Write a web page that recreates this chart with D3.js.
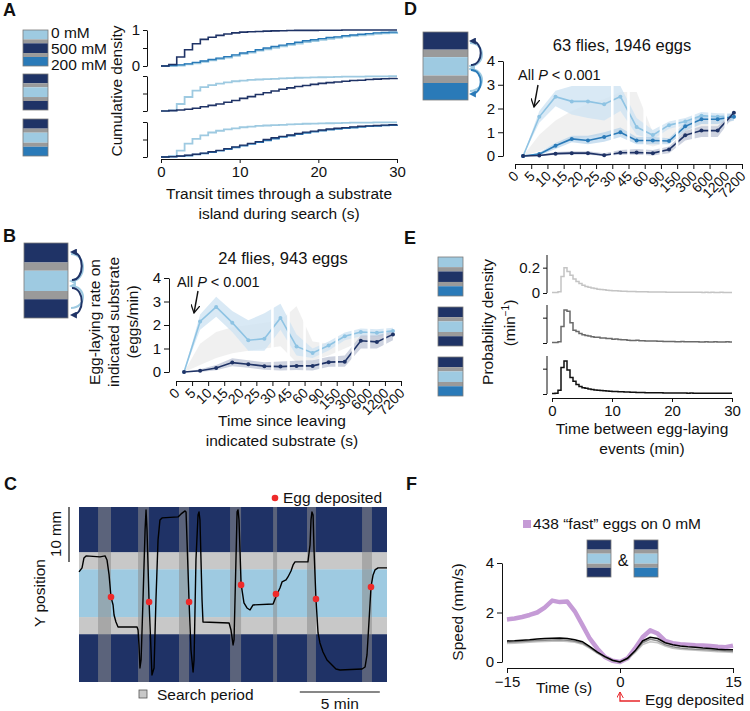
<!DOCTYPE html>
<html><head><meta charset="utf-8">
<script src="https://cdn.jsdelivr.net/npm/d3@7"></script>
<style>body{margin:0;background:#fff} svg text{font-family:"Liberation Sans",Arial,Helvetica,sans-serif;fill:#111}</style>
</head><body><svg id="c" width="750" height="711"></svg>
<script>
// ---------------- DATA ----------------
// Panel A: cumulative density of transit times (1-s bins, 0..30 s)
const transitTime = d3.range(0, 31);
const A1_light = [0,0.01,0.02,0.05,0.08,0.12,0.16,0.2,0.24,0.29,0.34,0.38,0.43,0.47,0.51,0.55,0.59,0.63,0.67,0.7,0.73,0.76,0.79,0.82,0.84,0.86,0.88,0.9,0.91,0.92,0.93];
const A1_blue  = [0,0.01,0.03,0.06,0.1,0.14,0.18,0.22,0.26,0.31,0.36,0.4,0.45,0.5,0.54,0.58,0.62,0.66,0.7,0.73,0.76,0.79,0.81,0.84,0.86,0.88,0.9,0.92,0.93,0.94,0.95];
const A1_navy  = [0,0.04,0.25,0.45,0.62,0.74,0.8,0.85,0.89,0.92,0.94,0.95,0.96,0.97,0.975,0.98,0.985,0.99,0.99,0.99,0.995,0.995,0.995,1,1,1,1,1,1,1,1];
const A2_light = [0,0.02,0.2,0.4,0.58,0.68,0.74,0.78,0.82,0.85,0.87,0.89,0.9,0.91,0.92,0.93,0.94,0.95,0.955,0.96,0.965,0.97,0.975,0.98,0.98,0.985,0.99,0.99,0.99,0.995,0.995];
const A2_navy  = [0,0.01,0.03,0.05,0.08,0.12,0.16,0.2,0.25,0.3,0.36,0.41,0.47,0.52,0.57,0.62,0.66,0.7,0.73,0.76,0.79,0.81,0.83,0.85,0.87,0.88,0.9,0.91,0.92,0.93,0.94];
const A3_light = [0,0.02,0.18,0.38,0.52,0.62,0.7,0.75,0.79,0.82,0.85,0.87,0.89,0.9,0.91,0.92,0.93,0.94,0.95,0.955,0.96,0.965,0.97,0.975,0.98,0.98,0.985,0.99,0.99,0.99,0.99];
const A3_blue  = [0,0.01,0.02,0.04,0.07,0.1,0.14,0.18,0.22,0.27,0.32,0.37,0.42,0.47,0.52,0.57,0.61,0.65,0.69,0.72,0.75,0.78,0.8,0.82,0.84,0.86,0.88,0.89,0.9,0.91,0.92];
const A3_navy  = [0,0.01,0.03,0.05,0.08,0.11,0.15,0.19,0.24,0.29,0.34,0.39,0.44,0.5,0.55,0.59,0.63,0.67,0.71,0.74,0.77,0.8,0.82,0.84,0.86,0.88,0.89,0.9,0.91,0.92,0.93];
const A_xTicks = [0,10,20,30];
const A_legend = ["0 mM","500 mM","200 mM"];

// Panels B & D: egg-laying rate per time bin since leaving substrate
const binLabels = ["0","5","10","15","20","25","30","45","60","90","150","300","600","1200","7200"];
const B_light    = [0,2.15,2.77,2.1,1.35,1.42,2.3,1.09,0.81,1.13,1.52,1.7,1.67,1.75];
const B_lightHi  = [0,2.45,3.2,2.6,2.2,2.5,2.9,1.6,1.0,1.3,1.68,1.85,1.82,1.88];
const B_lightLo  = [0,1.8,2.35,1.7,0.9,0.9,1.8,0.7,0.6,0.92,1.35,1.52,1.5,1.62];
const B_navy     = [0,0.05,0.17,0.4,0.33,0.25,0.23,0.26,0.26,0.42,0.44,1.33,1.28,1.6];
const B_navyHi   = [0,0.12,0.3,0.58,0.5,0.42,0.45,0.48,0.5,0.65,0.7,1.55,1.55,1.75];
const B_navyLo   = [0,0,0.07,0.25,0.18,0.1,0.06,0.08,0.06,0.22,0.22,1.0,1.0,1.35];
const B_nullHi   = [0,1.2,1.7,1.9,2.0,2.1,2.2,2.8,1.3,1.2,1.5,1.7,1.7,1.75];
const B_nullLo   = [0,0.3,0.6,0.8,0.9,1.0,1.1,0.4,0.5,0.7,1.0,1.3,1.3,1.5];

const D_light    = [0,1.65,2.5,2.3,2.3,2.18,2.5,1.22,0.88,1.3,1.45,1.7,1.65,1.65];
const D_lightHi  = [0,1.9,2.75,2.95,2.95,2.95,2.95,1.6,1.1,1.45,1.6,1.85,1.8,1.8];
const D_lightLo  = [0,1.4,2.1,1.75,1.6,1.5,1.9,0.9,0.7,1.15,1.3,1.55,1.5,1.5];
const D_blue     = [0,0.08,0.43,0.72,0.65,0.8,1.0,0.65,0.65,0.63,1.25,1.55,1.55,1.65];
const D_blueHi   = [0,0.15,0.55,0.85,0.85,1.0,1.2,0.8,0.8,0.75,1.4,1.7,1.7,1.8];
const D_blueLo   = [0,0.02,0.3,0.58,0.5,0.6,0.8,0.5,0.5,0.5,1.05,1.35,1.35,1.5];
const D_navy     = [0,0.02,0.1,0.12,0.12,0.03,0.14,0.15,0.12,0.27,0.87,1.07,1.07,1.82];
const D_navyHi   = [0,0.05,0.17,0.2,0.2,0.12,0.25,0.3,0.25,0.4,1.05,1.25,1.25,1.9];
const D_navyLo   = [0,0,0.04,0.05,0.05,0,0.05,0.05,0.02,0.12,0.65,0.8,0.8,1.7];
const D_nullHi   = [0,0.9,1.5,1.9,2.2,2.4,2.7,2.7,1.0,1.2,1.4,1.6,1.6,1.7];
const D_nullLo   = [0,0.2,0.5,0.7,0.8,0.9,0.9,0.6,0.4,0.6,0.9,1.2,1.2,1.5];

// Panel C: example trajectory (time in min, Y position in mm)
const traceT = [0,0.19,0.31,0.44,1.31,1.63,1.75,1.88,2.0,2.13,2.19,2.31,2.44,3.63,3.69,3.75,3.81,3.88,4.0,4.13,4.19,4.25,4.38,4.5,4.56,4.69,4.81,4.94,5.06,5.19,6.19,6.38,6.63,6.69,6.75,6.88,7.0,7.13,7.19,7.31,7.44,7.5,7.56,7.69,7.75,9.38,9.5,9.63,9.69,9.81,9.88,9.94,10.0,10.13,10.31,10.5,10.69,10.88,12.13,12.38,12.56,12.69,12.94,13.06,13.25,13.38,13.5,14.31,14.44,14.5,14.56,14.63,14.69,14.81,14.94,15.06,15.25,15.5,15.75,16.06,16.31,17.69,17.88,18.0,18.13,18.25,18.38,18.5,18.69,19.25];
const traceY = [20.0,20.73,22.55,22.91,22.73,22.91,22.18,19.45,15.45,14.0,12.18,10.91,10.0,10.0,9.45,6.73,2.55,4.0,14.91,27.64,31.27,27.64,14.55,5.82,1.27,2.55,14.91,25.82,29.45,29.82,30.0,30.55,31.09,30.91,25.82,14.55,5.82,1.82,4.0,22.18,30.36,30.91,29.45,14.91,10.91,10.73,9.45,6.73,7.64,22.18,30.91,31.27,29.45,17.82,14.36,13.45,13.09,14.0,14.18,16.0,17.09,18.18,18.55,19.09,20.18,21.27,21.82,21.82,24.91,29.45,30.91,30.36,24.0,15.09,8.91,7.09,5.45,4.0,3.27,2.36,2.18,2.36,2.73,4.91,11.27,17.27,19.45,20.36,20.73,20.73];
const eggT = [2.0,4.38,6.88,10.13,12.31,14.81,18.25];
const eggY = [15.45,14.55,14.55,17.64,16.0,15.09,17.27];
const searchStart = [1.19,3.69,6.25,9.44,12.13,14.25,17.69];
const searchEnd   = [2.0,4.38,6.88,10.13,12.38,14.81,18.31];
const arenaZones = [[0,8.7,"navy"],[8.7,11.8,"gray"],[11.8,20.5,"light"],[20.5,23.6,"gray"],[23.6,31.8,"navy"]];

// Panel E: inter-egg interval histograms (0.5-min bins)
const E_binStart = d3.range(0, 30, 0.5);
const E_top = [0.004,0.004,0.01,0.13,0.2,0.17,0.14,0.11,0.09,0.075,0.062,0.052,0.045,0.04,0.035,0.03,0.028,0.025,0.022,0.02,0.018,0.017,0.015,0.014,0.013,0.012,0.012,0.011,0.01,0.01,0.009,0.009,0.008,0.008,0.008,0.007,0.007,0.007,0.006,0.006,0.006,0.006,0.005,0.006,0.005,0.005,0.005,0.006,0.005,0.005,0.004,0.005,0.004,0.005,0.004,0.004,0.005,0.004,0.004,0.004];
const E_mid = [0.004,0.004,0.01,0.13,0.26,0.25,0.16,0.1,0.09,0.075,0.065,0.06,0.055,0.05,0.045,0.045,0.04,0.04,0.035,0.035,0.03,0.032,0.028,0.025,0.025,0.022,0.02,0.02,0.022,0.018,0.018,0.016,0.016,0.015,0.015,0.013,0.014,0.012,0.012,0.012,0.011,0.01,0.01,0.011,0.01,0.009,0.009,0.01,0.009,0.008,0.008,0.009,0.008,0.008,0.01,0.008,0.007,0.008,0.01,0.008];
const E_bot = [0.003,0.005,0.03,0.21,0.26,0.19,0.13,0.1,0.075,0.06,0.05,0.045,0.04,0.036,0.032,0.03,0.028,0.026,0.024,0.022,0.02,0.019,0.018,0.017,0.016,0.015,0.014,0.013,0.012,0.012,0.011,0.01,0.01,0.01,0.009,0.009,0.009,0.008,0.008,0.008,0.008,0.007,0.007,0.007,0.007,0.006,0.007,0.006,0.006,0.006,0.006,0.006,0.005,0.006,0.005,0.006,0.005,0.005,0.005,0.005];

// Panel F: speed around egg deposition (1-s samples, -15..15 s)
const F_time = d3.range(-15, 16);
const F_fast  = [1.72,1.76,1.82,1.9,2.0,2.2,2.48,2.42,2.44,2.05,1.5,0.94,0.54,0.2,0.05,0,0.15,0.55,1.0,1.28,1.15,0.85,0.76,0.72,0.7,0.68,0.67,0.65,0.62,0.6,0.66];
const F_black = [0.85,0.86,0.88,0.9,0.93,0.95,0.96,0.97,0.95,0.9,0.82,0.62,0.4,0.22,0.07,0,0.15,0.45,0.85,1.0,0.95,0.78,0.7,0.65,0.62,0.6,0.57,0.55,0.52,0.5,0.5];
const F_dgray = [0.8,0.81,0.83,0.85,0.87,0.88,0.89,0.9,0.88,0.84,0.76,0.58,0.37,0.2,0.06,0,0.13,0.42,0.78,0.92,0.86,0.7,0.62,0.57,0.54,0.52,0.5,0.48,0.46,0.44,0.43];
const F_lgray = [0.75,0.76,0.78,0.8,0.82,0.83,0.84,0.85,0.83,0.8,0.72,0.55,0.35,0.18,0.05,0,0.12,0.38,0.7,0.82,0.78,0.64,0.56,0.52,0.49,0.47,0.45,0.43,0.41,0.4,0.38];

// ---------------- STYLE ----------------
const COL = {navy:"#1f3366", light:"#9ecae1", blue:"#2a7ab8", gray:"#9a9a9a", lgray:"#c8c8c8"};
const svg = d3.select("#c");
const defs = svg.append("defs");
function mk(id,color,size,open){
  const m = defs.append("marker").attr("id",id).attr("viewBox","0 0 10 10").attr("refX",open?9:7).attr("refY",5)
    .attr("markerWidth",size).attr("markerHeight",size).attr("orient","auto").attr("markerUnits","userSpaceOnUse");
  if(open) m.append("path").attr("d","M0,0 L9,5 L0,10").attr("fill","none").attr("stroke",color).attr("stroke-width",1.4);
  else m.append("path").attr("d","M0,0 L10,5 L0,10 Z").attr("fill",color);
}
mk("mNavy",COL.navy,7); mk("mLight",COL.light,7); mk("mBlue",COL.blue,7); mk("mBlack","#111",9,true); mk("mRed","#e8262a",7,true);

function text(x,y,s,o={}){
  const t = svg.append("text").attr("x",x).attr("y",y).text(s)
    .style("font-size",(o.size||15)+"px").attr("text-anchor",o.anchor||"start");
  if(o.bold) t.style("font-weight","bold");
  if(o.rot) t.attr("transform",`rotate(${o.rot},${x},${y})`);
  return t;
}
function icon(x,y,w,h,cols){
  const fr=[0.26,0.11,0.27,0.11,0.25]; let yy=y;
  const g=svg.append("g");
  fr.forEach((f,i)=>{ g.append("rect").attr("x",x).attr("y",yy).attr("width",w).attr("height",h*f).attr("fill",cols[i]); yy+=h*f; });
  g.append("rect").attr("x",x).attr("y",y).attr("width",w).attr("height",h).attr("fill","none").attr("stroke","#7a7a7a").attr("stroke-width",0.8);
}
function styleAxis(g,size){
  g.selectAll("path,line").attr("stroke","#111").attr("stroke-width",1);
  g.selectAll("text").style("font-size",(size||14)+"px").style("font-family","'Liberation Sans',Arial,sans-serif").attr("fill","#111");
}
const N=COL.navy,L=COL.light,B=COL.blue,G=COL.gray;

// Panel labels
[["A",3,16],["B",3,242],["C",4,490],["D",404,15],["E",404,244],["F",406,490]].forEach(d=>text(d[1],d[2],d[0],{size:18,bold:true}));

// ---------------- PANEL A ----------------
icon(23,30,25,36,[L,G,N,G,B]);
icon(23,74,25,36,[N,G,L,G,N]);
icon(23,119,25,37,[N,G,L,G,B]);
A_legend.forEach((s,i)=>text(51,38+i*16,s,{size:15.5}));
const xA = d3.scaleLinear().domain([0,30]).range([161,397]);
const subA = [[66,30],[111,76],[157,122]];
const seriesA = [
  [[A1_light,L,2.2],[A1_blue,B,1.4],[A1_navy,N,1.6]],
  [[A2_light,L,1.8],[A2_navy,N,1.6]],
  [[A3_light,L,1.8],[A3_blue,B,1.6],[A3_navy,N,1.4]]
];
subA.forEach((r,k)=>{
  const y = d3.scaleLinear().domain([0,1]).range(r);
  const ax = svg.append("g").attr("transform","translate(147,0)")
    .call(d3.axisLeft(y).tickValues([0,0.5,1]).tickSize(4).tickSizeOuter(0).tickFormat(d=> k===0 && d!==0.5 ? d3.format("d")(d) : ""));
  styleAxis(ax,15);
  ax.selectAll("text").attr("x",-7);
  const line = d3.line().x((d,i)=>xA(transitTime[i])).y(d=>y(d)).curve(d3.curveStepAfter);
  seriesA[k].forEach(s=>svg.append("path").attr("d",line(s[0])).attr("fill","none").attr("stroke",s[1]).attr("stroke-width",s[2]));
});
const axA = svg.append("g").attr("transform","translate(0,159)").call(d3.axisBottom(xA).tickValues(A_xTicks).tickSize(4).tickSizeOuter(0));
styleAxis(axA,15);
text(122,91,"Cumulative density",{anchor:"middle",rot:-90,size:15.5});
text(279,199,"Transit times through a substrate",{anchor:"middle",size:15.5});
text(279,219,"island during search (s)",{anchor:"middle",size:15.5});

// ---------------- PANELS B & D ----------------
function ratePanel(o){
  const xb = d3.scaleLinear().domain([0,binLabels.length-1]).range([o.x0,o.x1]);
  const y = d3.scaleLinear().domain([0,4]).range([o.yb,o.yt]);
  const idx = d3.range(binLabels.length-1);
  const cx = i => xb(i+0.5);
  const area = (lo,hi)=> d3.area().x(i=>cx(i)).y0(i=>y(lo[i])).y1(i=>y(hi[i]))(idx);
  svg.append("path").attr("d",area(o.nullLo,o.nullHi)).attr("fill","#e2e2e2").attr("opacity",0.5);
  o.series.forEach(s=> svg.append("path").attr("d",area(s.lo,s.hi)).attr("fill",s.band).attr("opacity",s.op));
  o.series.forEach(s=> svg.append("path").attr("d",d3.line().x(i=>cx(i)).y(i=>y(s.m[i]))(idx)).attr("fill","none").attr("stroke",s.c).attr("stroke-width",1.6));
  d3.range(6,14).forEach(i=> svg.append("rect").attr("x",xb(i)-1.3).attr("y",o.yt+6).attr("width",2.6).attr("height",o.yb-o.yt-4).attr("fill","#fff"));
  o.series.forEach(s=> svg.append("g").selectAll("circle").data(idx).join("circle").attr("cx",i=>cx(i)).attr("cy",i=>y(s.m[i])).attr("r",2).attr("fill",s.c));
  const ay = svg.append("g").attr("transform",`translate(${o.yx},0)`).call(d3.axisLeft(y).tickValues([0,1,2,3,4]).tickSize(5).tickSizeOuter(0).tickFormat(d3.format("d")));
  styleAxis(ay,15);
  const ax = svg.append("g").attr("transform",`translate(0,${o.xy})`).call(d3.axisBottom(xb).tickValues(d3.range(binLabels.length)).tickSize(5).tickSizeOuter(0).tickFormat(i=>binLabels[i]));
  styleAxis(ax,14);
  ax.selectAll("text").attr("text-anchor","end").attr("dy",0).attr("y",0).attr("transform","translate(4,13) rotate(-45)");
  text(o.titleX,o.titleY,o.title,{anchor:"middle",size:16.5});
  const p = svg.append("text").attr("x",o.pX).attr("y",o.pY).style("font-size","14.5px");
  p.append("tspan").text("All ");
  p.append("tspan").text("P").style("font-style","italic");
  p.append("tspan").text(" < 0.001");
  svg.append("line").attr("x1",o.arr[0]).attr("y1",o.arr[1]).attr("x2",o.arr[2]).attr("y2",o.arr[3]).attr("stroke","#111").attr("stroke-width",1.4).attr("marker-end","url(#mBlack)");
}
function arc(x,y1,y2,bulge,color,mid){
  svg.append("path").attr("d",`M${x},${y1} C${x+bulge},${y1} ${x+bulge},${y2} ${x},${y2}`)
    .attr("fill","none").attr("stroke",color).attr("stroke-width",2).attr("marker-end",`url(#${mid})`);
}
// B
icon(24,243,44,75,[N,G,L,G,N]);
arc(71,254,281,16,L,"mLight"); arc(72,280,252,13,N,"mNavy");
arc(71,308,286,16,L,"mLight"); arc(72,288,315,13,N,"mNavy");
ratePanel({x0:176,x1:401,yb:372,yt:278,yx:169,xy:381,
  nullLo:B_nullLo,nullHi:B_nullHi,
  series:[{m:B_light,lo:B_lightLo,hi:B_lightHi,c:"#8ec3e3",band:"#cfe4f2",op:0.8},
          {m:B_navy,lo:B_navyLo,hi:B_navyHi,c:N,band:"#aeb5cc",op:0.6}],
  title:"24 flies, 943 eggs",titleX:283,titleY:264,pX:177,pY:287,arr:[198,291,194,313]});
text(100,322,"Egg-laying rate on",{anchor:"middle",rot:-90,size:15.5});
text(119,322,"indicated substrate",{anchor:"middle",rot:-90,size:15.5});
text(138,322,"(eggs/min)",{anchor:"middle",rot:-90,size:15.5});
text(282,426,"Time since leaving",{anchor:"middle",size:15.5});
text(282,446,"indicated substrate (s)",{anchor:"middle",size:15.5});
// D
icon(423,32,45,68,[N,G,L,G,B]);
arc(470,43,66,16,L,"mLight"); arc(471,65,41,13,N,"mNavy");
arc(470,91,69,16,L,"mLight"); arc(471,70,94,13,B,"mBlue");
ratePanel({x0:515,x1:742,yb:156,yt:61,yx:503,xy:164,
  nullLo:D_nullLo,nullHi:D_nullHi,
  series:[{m:D_light,lo:D_lightLo,hi:D_lightHi,c:"#8ec3e3",band:"#cfe4f2",op:0.8},
          {m:D_blue,lo:D_blueLo,hi:D_blueHi,c:B,band:"#a9cbe8",op:0.6},
          {m:D_navy,lo:D_navyLo,hi:D_navyHi,c:N,band:"#aeb5cc",op:0.6}],
  title:"63 flies, 1946 eggs",titleX:622,titleY:51,pX:518,pY:80,arr:[538,85,534,107]});

// ---------------- PANEL C ----------------
const xC = d3.scaleLinear().domain([0,19.25]).range([79,387]);
const yC = d3.scaleLinear().domain([0,31.8]).range([682,507]);
const zoneCol = {navy:"#1f3266",gray:"#c8c8c8",light:"#9ecae1"};
svg.append("g").selectAll("rect").data(arenaZones).join("rect")
  .attr("x",xC(0)).attr("width",xC(19.25)-xC(0)).attr("y",d=>yC(d[1])).attr("height",d=>yC(d[0])-yC(d[1])).attr("fill",d=>zoneCol[d[2]]);
svg.append("g").selectAll("rect").data(searchStart).join("rect")
  .attr("x",d=>xC(d)).attr("width",(d,i)=>xC(searchEnd[i])-xC(d)).attr("y",yC(31.8)).attr("height",yC(0)-yC(31.8))
  .attr("fill","#8c8c8c").attr("opacity",0.55);
svg.append("path").attr("d",d3.line().x((d,i)=>xC(traceT[i])).y(d=>yC(d))(traceY)).attr("fill","none").attr("stroke","#000").attr("stroke-width",1.4).attr("stroke-linejoin","round");
svg.append("g").selectAll("circle").data(eggT).join("circle").attr("cx",d=>xC(d)).attr("cy",(d,i)=>yC(eggY[i])).attr("r",3.3).attr("fill","#ee2a2a");
svg.append("circle").attr("cx",275).attr("cy",498).attr("r",3.3).attr("fill","#ee2a2a");
text(283,503,"Egg deposited",{size:15.5});
svg.append("line").attr("x1",69).attr("x2",69).attr("y1",yC(31.8)).attr("y2",yC(21.8)).attr("stroke","#111").attr("stroke-width",1.2);
text(61,534,"10 mm",{anchor:"middle",rot:-90,size:15});
text(45,593,"Y position",{anchor:"middle",rot:-90,size:15.5});
svg.append("rect").attr("x",139).attr("y",690).attr("width",8).attr("height",8).attr("fill","#c8c8c8").attr("stroke","#555").attr("stroke-width",0.8);
text(157,700,"Search period",{size:15.5});
svg.append("line").attr("x1",xC(13.8)).attr("x2",xC(18.8)).attr("y1",692).attr("y2",692).attr("stroke","#111").attr("stroke-width",1.2);
text(xC(16.3),709,"5 min",{anchor:"middle",size:15.5});

// ---------------- PANEL E ----------------
icon(438,257,25,39,[L,G,N,G,B]);
icon(438,307,25,39,[N,G,L,G,N]);
icon(438,357,25,39,[N,G,L,G,B]);
const xE = d3.scaleLinear().domain([0,30]).range([552,732]);
const subE = [[293,255,E_top,"#c4c4c4"],[343,305,E_mid,"#6a6a6a"],[394,356,E_bot,"#111"]];
subE.forEach((s,k)=>{
  const y = d3.scaleLinear().domain([0,0.3]).range([s[0],s[1]]);
  const ax = svg.append("g").attr("transform","translate(547,0)")
    .call(d3.axisLeft(y).tickValues([0,0.2]).tickSize(4).tickSizeOuter(0).tickFormat(d=> k===0 ? (d===0?"0":"0.2") : ""));
  styleAxis(ax,15);
  ax.select(".domain").attr("d",`M0,${s[0]}V${s[1]}`);
  const pts = E_binStart.map((b,i)=>[b,s[2][i]]).concat([[30,s[2][s[2].length-1]]]);
  svg.append("path").attr("d",d3.line().x(d=>xE(d[0])).y(d=>y(d[1])).curve(d3.curveStepAfter)(pts))
    .attr("fill","none").attr("stroke",s[3]).attr("stroke-width",1.5);
});
const axE = svg.append("g").attr("transform","translate(0,398)").call(d3.axisBottom(xE).tickValues([0,10,20,30]).tickSize(4).tickSizeOuter(0));
styleAxis(axE,15);
text(493,322,"Probability density",{anchor:"middle",rot:-90,size:15.5});
const mt = svg.append("text").attr("x",515).attr("y",323).attr("text-anchor","middle").attr("transform","rotate(-90,515,323)").style("font-size","15.5px");
mt.append("tspan").text("(min");
mt.append("tspan").text("−1").attr("dy",-6).style("font-size","10px");
mt.append("tspan").text(")").attr("dy",6);
text(642,434,"Time between egg-laying",{anchor:"middle",size:15.5});
text(642,454,"events (min)",{anchor:"middle",size:15.5});

// ---------------- PANEL F ----------------
svg.append("rect").attr("x",523).attr("y",520).attr("width",8).attr("height",8).attr("fill","#c59bd6");
text(533,529,"438 “fast” eggs on 0 mM",{size:15.5});
icon(587,540,24,37,[N,G,L,G,N]);
text(623,566,"&",{anchor:"middle",size:16});
icon(634,540,24,37,[N,G,L,G,B]);
const xF = d3.scaleLinear().domain([-15,15]).range([507,733]);
const yF = d3.scaleLinear().domain([0,4]).range([662,563]);
const lineF = d3.line().x((d,i)=>xF(F_time[i])).y(d=>yF(d));
svg.append("path").attr("d",lineF(F_fast)).attr("fill","none").attr("stroke","#c59bd6").attr("stroke-width",4.5).attr("stroke-linejoin","round");
[[F_lgray,"#c4c4c4"],[F_dgray,"#8a8a8a"],[F_black,"#000"]].forEach(s=>
  svg.append("path").attr("d",lineF(s[0])).attr("fill","none").attr("stroke",s[1]).attr("stroke-width",1.5));
const ayF = svg.append("g").attr("transform","translate(502,0)").call(d3.axisLeft(yF).tickValues([0,2,4]).tickSize(5).tickSizeOuter(0).tickFormat(d3.format("d")));
styleAxis(ayF,15);
const axF = svg.append("g").attr("transform","translate(0,668)").call(d3.axisBottom(xF).tickValues([-15,0,15]).tickSize(5).tickSizeOuter(0).tickFormat(d3.format("d")));
styleAxis(axF,15);
text(564,693,"Time (s)",{size:15.5,anchor:"middle"});
text(463,612,"Speed (mm/s)",{anchor:"middle",rot:-90,size:15.5});
svg.append("path").attr("d","M640,701 H620 V692").attr("fill","none").attr("stroke","#e8262a").attr("stroke-width",1.3).attr("marker-end","url(#mRed)");
text(645,705,"Egg deposited",{size:15.5});
</script></body></html>
